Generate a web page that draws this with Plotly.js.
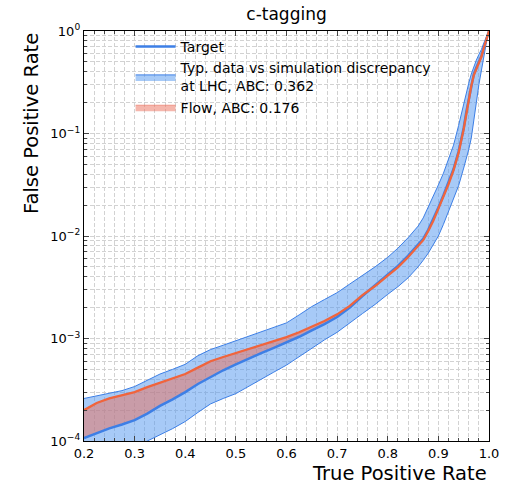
<!DOCTYPE html>
<html>
<head>
<meta charset="utf-8">
<script src="https://cdn.plot.ly/plotly-3.0.1.min.js"></script>
<style>html,body{margin:0;padding:0;background:#fff;}#chart{width:508px;height:486px;}</style>
</head>
<body>
<div id="chart"></div>
<script>
// True positive rate grid
const tpr = [0.20,0.225,0.25,0.275,0.30,0.325,0.35,0.375,0.40,0.425,0.45,0.475,0.50,0.525,0.55,0.575,0.60,0.625,0.65,0.675,0.70,0.725,0.75,0.775,0.80,0.82,0.84,0.86,0.87,0.88,0.89,0.90,0.91,0.92,0.93,0.94,0.95,0.955,0.96,0.965,0.97,0.975,0.98,0.985,0.99,0.995,1.00];
// Target false positive rate
const targetFPR = [1.07e-4,1.2e-4,1.33e-4,1.45e-4,1.6e-4,1.85e-4,2.2e-4,2.55e-4,3.0e-4,3.6e-4,4.2e-4,4.9e-4,5.6e-4,6.4e-4,7.2e-4,8.1e-4,9.1e-4,1.04e-3,1.2e-3,1.38e-3,1.62e-3,2.0e-3,2.6e-3,3.3e-3,4.2e-3,5.1e-3,6.4e-3,8.2e-3,9.4e-3,1.15e-2,1.45e-2,1.9e-2,2.5e-2,3.3e-2,4.5e-2,6.7e-2,0.113,0.16,0.22,0.3,0.38,0.44,0.5,0.57,0.7,0.85,1.0];
// Flow false positive rate
const flowFPR = [2.0e-4,2.35e-4,2.6e-4,2.8e-4,3.0e-4,3.35e-4,3.7e-4,4.1e-4,4.5e-4,5.2e-4,6.0e-4,6.6e-4,7.2e-4,7.9e-4,8.6e-4,9.4e-4,1.03e-3,1.15e-3,1.3e-3,1.48e-3,1.72e-3,2.08e-3,2.65e-3,3.25e-3,4.1e-3,4.95e-3,6.2e-3,7.95e-3,9.1e-3,1.12e-2,1.41e-2,1.85e-2,2.43e-2,3.2e-2,4.4e-2,6.5e-2,0.11,0.156,0.215,0.29,0.37,0.43,0.49,0.56,0.69,0.84,1.0];
// Typical data vs simulation discrepancy band
const bandUpper = [2.6e-4,2.75e-4,2.9e-4,3.1e-4,3.4e-4,3.9e-4,4.5e-4,5.0e-4,5.6e-4,6.8e-4,7.8e-4,8.6e-4,9.5e-4,1.05e-3,1.17e-3,1.28e-3,1.42e-3,1.7e-3,2.05e-3,2.4e-3,2.8e-3,3.4e-3,4.1e-3,5.0e-3,6.2e-3,7.6e-3,9.6e-3,1.25e-2,1.5e-2,1.9e-2,2.45e-2,3.15e-2,4.1e-2,5.5e-2,7.7e-2,0.12,0.2,0.25,0.31,0.38,0.45,0.52,0.59,0.66,0.77,0.88,1.0];
const bandLower = [4.5e-5,5.3e-5,6.2e-5,7.2e-5,8.5e-5,1.0e-4,1.15e-4,1.32e-4,1.55e-4,1.9e-4,2.3e-4,2.6e-4,2.9e-4,3.4e-4,4.0e-4,4.7e-4,5.5e-4,6.6e-4,8e-4,9.7e-4,1.15e-3,1.42e-3,1.75e-3,2.15e-3,2.7e-3,3.2e-3,3.9e-3,5.0e-3,5.8e-3,6.8e-3,8.2e-3,1.0e-2,1.3e-2,1.75e-2,2.3e-2,3.1e-2,4.6e-2,5.6e-2,7e-2,9e-2,0.13,0.2,0.3,0.42,0.58,0.78,1.0];

const labelTarget = 'Target';
const labelBand = 'Typ. data vs simulation discrepancy<br>at LHC, ABC: 0.362';
const labelFlow = 'Flow, ABC: 0.176';
const yTickVals = [1e-4,1e-3,1e-2,1e-1,1];
const yTickText = ['10<sup>\u22124</sup>','10<sup>\u22123</sup>','10<sup>\u22122</sup>','10<sup>\u22121</sup>','10<sup>0</sup>'];

const BLUE = '#3d7fe6';
const ORANGE = '#f0643c';
const rev = a => a.slice().reverse();

const traces = [
  {x: tpr.concat(rev(tpr)), y: bandUpper.concat(rev(bandLower)), type:'scatter', mode:'lines',
   fill:'toself', fillcolor:'rgba(80,150,240,0.5)', line:{color:BLUE, width:1},
   name: labelBand, legendrank: 2, hoverinfo:'skip'},
  {x: tpr.concat(rev(tpr)), y: flowFPR.concat(rev(targetFPR)), type:'scatter', mode:'lines',
   fill:'toself', fillcolor:'rgba(235,110,90,0.5)', line:{color:'rgba(235,110,90,0.6)', width:1},
   name: labelFlow, legendrank: 3, hoverinfo:'skip'},
  {x: tpr, y: targetFPR, type:'scatter', mode:'lines', line:{color:BLUE, width:2.5},
   name: labelTarget, legendrank: 1},
  {x: tpr, y: flowFPR, type:'scatter', mode:'lines', line:{color:ORANGE, width:2.3},
   name: 'Flow', showlegend:false}
];

const GRID = '#d2d2d2';
const DASH = '4px,2px';

const layout = {
  width:508, height:486,
  margin:{l:84, r:19, t:31, b:45},
  paper_bgcolor:'#fff', plot_bgcolor:'#fff',
  font:{family:'DejaVu Sans, sans-serif', size:13, color:'#000'},
  title:{text:'c-tagging', font:{size:17}, x:0.564, xanchor:'center', y:0.972, yanchor:'middle'},
  showlegend:true,
  legend:{x:0.115, y:1.0, xanchor:'left', yanchor:'top', bgcolor:'rgba(0,0,0,0)',
          font:{size:14}, tracegroupgap:0, itemwidth:40},
  xaxis:{range:[0.2,1.0], dtick:0.1, tick0:0.2, tickformat:'.1f', ticks:'inside', ticklen:5,
         mirror:'allticks', showline:true, linecolor:'#000', linewidth:1.2,
         showgrid:true, gridcolor:GRID, griddash:DASH, gridwidth:1, zeroline:false,
         minor:{dtick:0.02, ticks:'inside', ticklen:3, showgrid:true, gridcolor:GRID, griddash:DASH}},
  yaxis:{type:'log', range:[-4,0], tickvals:yTickVals, ticktext:yTickText, ticks:'inside', ticklen:5,
         mirror:'allticks', showline:true, linecolor:'#000', linewidth:1.2,
         showgrid:true, gridcolor:GRID, griddash:DASH, gridwidth:1, zeroline:false,
         minor:{dtick:'D1', ticks:'inside', ticklen:3, showgrid:true, gridcolor:GRID, griddash:DASH}},
  annotations:[
    {text:'True Positive Rate', xref:'paper', yref:'paper', x:1, y:0, xanchor:'right', yanchor:'top',
     yshift:-19, showarrow:false, font:{size:19.5}},
    {text:'False Positive Rate', xref:'paper', yref:'paper', x:0, y:1, xanchor:'right', yanchor:'top',
     xshift:-39, textangle:-90, showarrow:false, font:{size:19.5}}
  ]
};

Plotly.newPlot('chart', traces, layout, {displayModeBar:false, staticPlot:true});
</script>
</body>
</html>
